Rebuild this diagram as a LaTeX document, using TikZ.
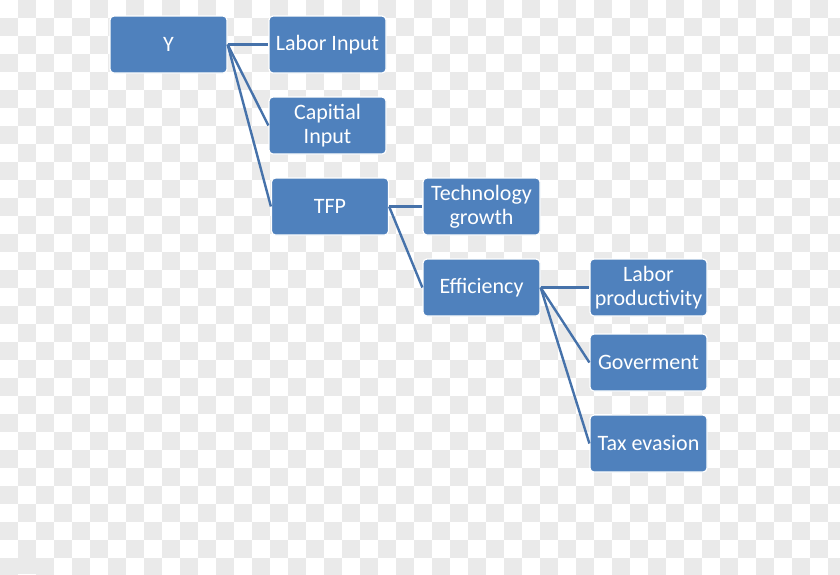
\documentclass[tikz,border=0pt]{standalone}
\usepackage{fontspec}
\setmainfont{Carlito}
\definecolor{boxblue}{RGB}{79,129,189}
\definecolor{linkblue}{RGB}{70,114,170}
\definecolor{checker}{RGB}{234,234,234}
\begin{document}
\begin{tikzpicture}[x=1pt,y=-1pt,
  box/.style={draw=white, line width=1.2pt, fill=boxblue, rounded corners=4pt,
    minimum width=117pt, minimum height=57pt, inner sep=0pt, align=center,
    text=white, font=\fontsize{22}{24.5}\selectfont},
  link/.style={draw=linkblue, line width=2.4pt}]
\fill[white] (0,0) rectangle (840,574);
\useasboundingbox (0,0) rectangle (840,574);
\foreach \i in {0,2,...,46}{
  \foreach \j in {0,2,...,30}{
    \fill[checker] (\i*18+18,\j*18) rectangle (\i*18+36,\j*18+18);
    \fill[checker] (\i*18,\j*18+18) rectangle (\i*18+18,\j*18+36);
  }
}
\fill[checker] (18,558) rectangle (36,574);
\node[box] (Y) at (168.5,44.5) {Y};
\node[box] (LI) at (327.5,44.5) {Labor Input};
\node[box] (CI) at (327.5,125.5) {Capitial\\Input};
\node[box] (TFP) at (330,206.5) {TFP};
\node[box] (TG) at (481.5,206.5) {Technology\\growth};
\node[box] (EF) at (481.5,287.5) {Efficiency};
\node[box] (LP) at (648.5,287.5) {Labor\\productivity};
\node[box] (GV) at (648.5,362.5) {Goverment};
\node[box] (TX) at (648.5,443.5) {Tax evasion};
\draw[link] (Y.east) -- (LI.west);
\draw[link] (Y.east) -- (CI.west);
\draw[link] (Y.east) -- (TFP.west);
\draw[link] (TFP.east) -- (TG.west);
\draw[link] (TFP.east) -- (EF.west);
\draw[link] (EF.east) -- (LP.west);
\draw[link] (EF.east) -- (GV.west);
\draw[link] (EF.east) -- (TX.west);
\end{tikzpicture}
\end{document}
